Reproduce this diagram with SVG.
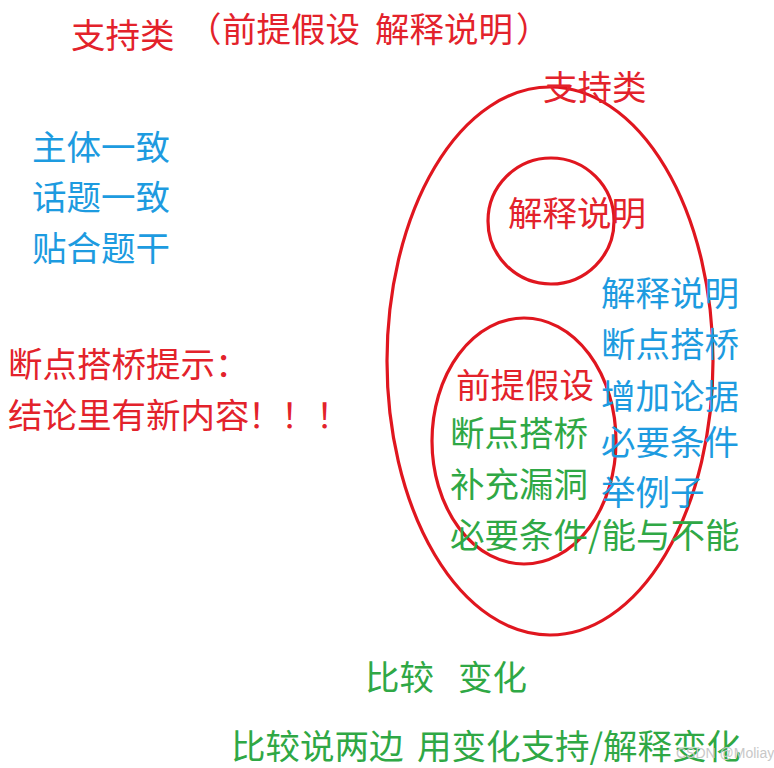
<svg xmlns="http://www.w3.org/2000/svg" width="774" height="768" viewBox="0 0 774 768">
<style>
text{font-family:"Noto Sans CJK SC","Noto Sans",sans-serif;font-size:34.5px}
.r{fill:#e3222b}
.b{fill:#1d9be0}
.g{fill:#2fa845}
.ring{fill:none;stroke:#e0161f;stroke-width:3.2}
.wm{fill:#c8c8c8;font-size:14px;font-family:"Liberation Sans",sans-serif}
</style>
<rect width="774" height="768" fill="#ffffff"/>
<g id="title">
<text class="r" x="71" y="48">支持类</text>
<text class="r" font-size="33"><tspan x="187" y="42">（</tspan><tspan x="222" y="42">前提假设</tspan><tspan x="375" y="42">解释说明</tspan><tspan x="516" y="42">）</tspan></text>
</g>
<g id="left-notes">
<text class="b" x="32" y="160">主体一致</text>
<text class="b" x="32" y="210">话题一致</text>
<text class="b" x="32" y="261">贴合题干</text>
<text class="r" x="8" y="377">断点搭桥提示：</text>
<text class="r" y="428"><tspan x="8">结论里有新内容</tspan><tspan x="248">！</tspan><tspan x="281">！</tspan><tspan x="316">！</tspan></text>
</g>
<g id="support-ellipse">
<ellipse class="ring" cx="550" cy="361" rx="163" ry="274"/>
<text class="r" x="543" y="100">支持类</text>
</g>
<g id="explain-circle">
<circle class="ring" cx="551" cy="221" r="63"/>
<text class="r" x="508" y="226">解释说明</text>
</g>
<g id="premise-ellipse">
<ellipse class="ring" cx="524" cy="441" rx="92" ry="123"/>
<text class="r" x="456" y="398">前提假设</text>
<text class="g" x="450" y="446">断点搭桥</text>
<text class="g" x="450" y="497">补充漏洞</text>
<text class="g" y="548"><tspan x="450">必要条件</tspan><tspan x="588">/能与不能</tspan></text>
</g>
<g id="support-list">
<text class="b" x="601" y="306">解释说明</text>
<text class="b" x="601" y="357">断点搭桥</text>
<text class="b" x="601" y="409">增加论据</text>
<text class="b" x="601" y="455">必要条件</text>
<text class="b" x="601" y="505">举例子</text>
</g>
<g id="bottom">
<text class="g" x="365" y="690">比较</text>
<text class="g" x="458" y="690">变化</text>
<text class="g" y="759"><tspan x="231">比较说两边</tspan><tspan x="417">用变化支持/解释变化</tspan></text>
</g>
<g id="connectors"></g>
<text class="wm" x="676" y="758">CSDN @Moliay</text>
</svg>
